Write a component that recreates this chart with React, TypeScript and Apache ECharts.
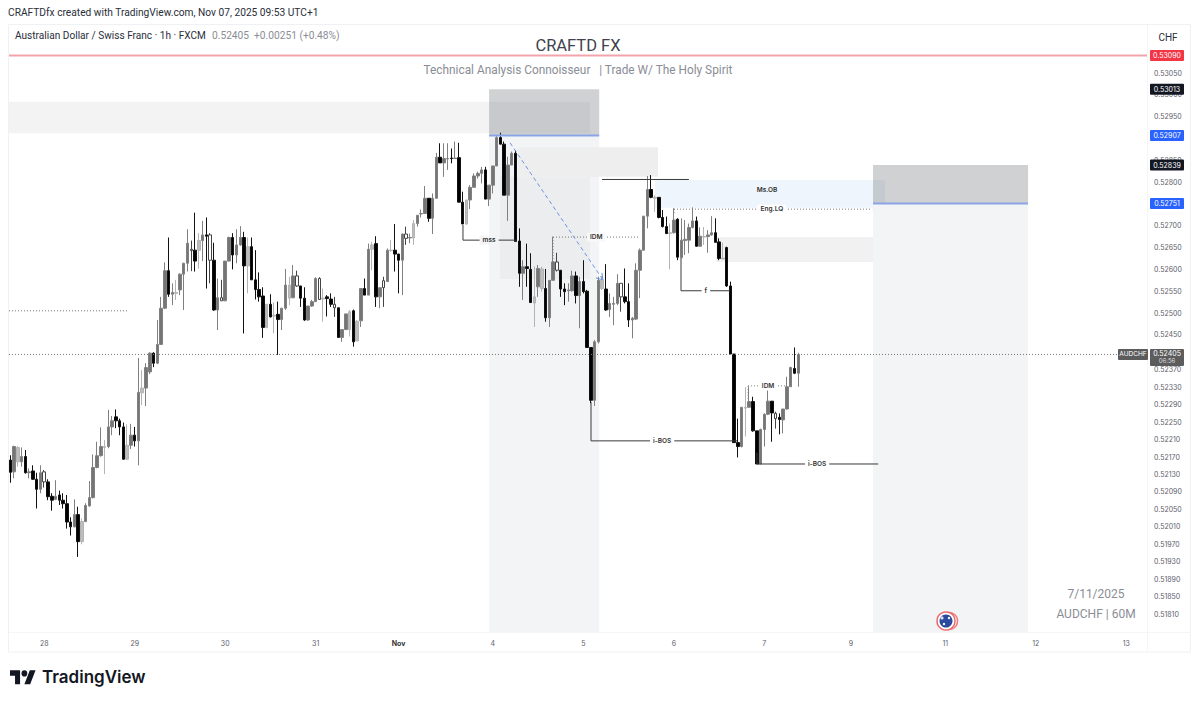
import React, { useEffect, useRef } from "react";
import * as echarts from "echarts";

// Candles are [open, close, low, high], in points of 0.00001 CHF.
const oct27 = [
  [52163,52135,52111,52174],[52136,52194,52121,52196],[52159,52192,52148,52195],[52159,52171,52148,52192],
  [52171,52134,52132,52186],[52134,52136,52121,52144],[52138,52119,52118,52151],[52119,52096,52052,52134],
  [52096,52134,52087,52151],
];
const oct28 = [
  [52136,52113,52100,52140],[52113,52079,52071,52119],[52080,52071,52047,52087],[52073,52080,52071,52117],
  [52083,52071,52060,52093],[52071,52063,52052,52087],[52063,52021,52006,52083],[52021,52010,51990,52032],
  [52010,52038,52009,52073],[52038,51976,51941,52056],[51976,52022,51970,52029],[52022,52059,52021,52064],
  [52058,52077,52056,52115],[52077,52146,52075,52176],[52146,52173,52144,52205],[52173,52194,52171,52238],
  [52192,52194,52131,52209],[52194,52239,52190,52278],[52239,52253,52220,52264],[52262,52253,52236,52279],
  [52253,52239,52220,52258],[52239,52165,52164,52249],[52165,52197,52163,52245],[52197,52220,52188,52246],
];
const oct29 = [
  [52220,52207,52194,52239],[52207,52318,52151,52397],[52317,52328,52289,52369],[52328,52375,52287,52385],
  [52365,52408,52360,52410],[52408,52385,52376,52410],[52385,52428,52383,52484],[52428,52511,52427,52537],
  [52511,52597,52509,52616],[52597,52543,52537,52673],[52543,52547,52518,52568],[52545,52547,52530,52576],
  [52553,52589,52541,52591],[52589,52614,52507,52615],[52614,52660,52595,52692],[52643,52646,52596,52666],
  [52644,52619,52595,52730],[52644,52666,52602,52683],[52666,52679,52619,52711],[52679,52676,52556,52719],
  [52679,52621,52568,52683],[52621,52507,52505,52661],[52507,52535,52461,52579],[52528,52535,52528,52576],
];
const oct30 = [
  [52528,52619,52527,52619],[52619,52673,52618,52675],[52673,52633,52600,52683],[52633,52656,52614,52692],
  [52656,52673,52654,52699],[52673,52608,52453,52686],[52608,52652,52545,52673],[52652,52576,52576,52673],
  [52576,52554,52531,52644],[52554,52537,52526,52593],[52539,52467,52443,52559],[52467,52520,52465,52520],
  [52520,52491,52490,52543],[52493,52495,52453,52524],[52497,52485,52404,52526],[52485,52511,52461,52511],
  [52511,52564,52507,52601],[52534,52564,52518,52583],[52535,52585,52534,52610],[52585,52562,52560,52597],
  [52562,52534,52514,52562],[52534,52484,52482,52559],[52484,52516,52482,52516],[52516,52526,52514,52530],
];
const oct31 = [
  [52526,52579,52526,52582],[52531,52579,52530,52582],[52532,52534,52480,52556],[52537,52533,52492,52541],
  [52532,52520,52514,52545],[52520,52512,52491,52537],[52512,52444,52444,52512],[52444,52462,52434,52462],
  [52462,52498,52461,52498],[52462,52503,52446,52507],[52505,52434,52423,52508],[52436,52481,52436,52484],
  [52482,52556,52468,52556],[52556,52541,52541,52579],[52541,52646,52541,52659],[52646,52656,52598,52663],
  [52659,52537,52514,52676],[52537,52558,52511,52558],[52558,52574,52514,52583],[52572,52644,52572,52648],
  [52643,52644,52640,52667],[52644,52635,52595,52704],
];
const nov3 = [
  [52635,52621,52545,52636],[52621,52681,52541,52682],[52671,52681,52656,52698],[52672,52673,52660,52682],
  [52672,52705,52656,52713],[52705,52724,52698,52724],[52727,52728,52719,52737],[52728,52763,52728,52791],
  [52763,52717,52709,52763],[52717,52763,52681,52774],[52763,52857,52763,52867],[52857,52844,52844,52889],
  [52844,52854,52812,52889],[52853,52854,52828,52889],[52855,52854,52843,52877],[52854,52855,52853,52893],
  [52856,52754,52754,52890],[52754,52704,52704,52778],[52704,52759,52702,52759],[52759,52788,52738,52793],
  [52788,52814,52788,52820],[52814,52820,52808,52824],[52820,52828,52797,52835],[52828,52761,52761,52835],
  [52761,52793,52745,52793],
];
const nov4 = [
  [52793,52837,52774,52837],[52837,52902,52837,52908],[52902,52887,52887,52913],[52887,52770,52770,52893],
  [52770,52839,52711,52858],[52839,52866,52839,52870],[52866,52664,52664,52873],[52665,52591,52560,52694],
  [52591,52606,52530,52621],[52606,52602,52560,52659],[52600,52524,52524,52637],[52523,52537,52468,52606],
  [52560,52602,52537,52610],[52556,52601,52549,52606],[52556,52489,52480,52601],[52489,52575,52468,52575],
  [52575,52617,52575,52675],[52617,52598,52595,52638],[52598,52555,52537,52598],[52555,52549,52518,52568],
  [52551,52553,52526,52568],[52551,52585,52549,52597],[52585,52540,52522,52595],[52540,52572,52465,52583],
];
const nov5 = [
  [52572,52549,52545,52621],[52550,52421,52421,52553],[52421,52300,52293,52421],[52300,52434,52287,52438],
  [52434,52575,52430,52583],[52556,52575,52553,52585],[52555,52507,52505,52612],[52508,52522,52491,52545],
  [52520,52522,52472,52537],[52522,52568,52518,52589],[52537,52568,52503,52568],[52537,52526,52522,52602],
  [52526,52484,52468,52568],[52484,52488,52442,52491],[52486,52598,52484,52614],[52598,52644,52534,52648],
  [52644,52722,52643,52722],[52722,52783,52694,52814],[52783,52765,52763,52816],[52763,52765,52732,52770],
  [52765,52719,52717,52765],[52719,52698,52696,52736],[52698,52682,52681,52721],[52682,52684,52600,52705],
];
const nov6 = [
  [52684,52713,52682,52740],[52715,52628,52621,52717],[52627,52667,52625,52717],[52666,52669,52633,52713],
  [52667,52696,52637,52705],[52696,52711,52694,52742],[52711,52653,52652,52721],[52653,52676,52653,52696],
  [52674,52675,52656,52697],[52675,52679,52638,52690],[52679,52684,52677,52722],[52684,52662,52661,52717],
  [52663,52625,52621,52671],[52624,52626,52623,52661],[52650,52562,52560,52652],[52562,52406,52406,52572],
  [52406,52203,52203,52406],[52203,52194,52169,52258],[52194,52284,52192,52284],[52282,52284,52217,52330],
  [52284,52297,52284,52331],[52297,52230,52228,52308],[52230,52154,52154,52230],[52154,52233,52154,52235],
];
const nov7 = [
  [52233,52268,52194,52270],[52268,52298,52266,52323],[52298,52271,52205,52298],[52270,52258,52235,52274],
  [52261,52256,52222,52270],[52255,52280,52224,52280],[52280,52331,52279,52354],[52331,52375,52331,52377],
  [52373,52362,52360,52421],[52362,52405,52331,52409],
];
const lightBars = [2,19,25,31,35,44,50,63,68,70,74,83,90,92,96,101,107,121,139,141,157,171,175,184,189,195];
const hollowBars = [9,48,53,56,76,82,86,99,105,145,162,203];

const dayLabels: [number, string][] = [
  [9,"28"],[33,"29"],[57,"30"],[81,"31"],[103,"Nov"],[128,"4"],[152,"5"],[176,"6"],[200,"7"],[223,"9"],[248,"11"],[272,"12"],[296,"13"],
];
const priceTicks = [
  53050,53000,52950,52850,52800,52700,52650,52600,52550,52500,52450,
  52370,52330,52290,52250,52210,52170,52130,52090,52050,52010,51970,51930,51890,51850,51810,
];
const BAR_SLOTS = 302;
const PRICE_MIN = 51769;
const PRICE_MAX = 53160;
const LEFT_EDGE = -0.34;
const RIGHT_EDGE = 301.5;

// Zones: [from bar, to bar, top price, bottom price, fill]
const zones: [number, number, number, number, string][] = [
  [LEFT_EDGE,153.8,52984,52912,"#f3f3f4"],
  [127,156.2,52907,PRICE_MIN,"#f3f4f6"],
  [134.7,171.8,52880,52812,"#eeeeef"],
  [129.9,153.8,52812,52578,"#ecedef"],
  [127,156.2,53013,52907,"rgba(120,123,130,0.35)"],
  [171,232,52805,52741,"#eef5fc"],
  [228.83,269.95,52751,PRICE_MIN,"#f3f4f6"],
  [187.2,228.83,52674,52617,"#f1f1f2"],
  [228.83,269.95,52839,52751,"rgba(120,123,130,0.35)"],
];
// Lines: [bar, price, bar, price]
const solidLines = [
  [120.07,52702,120.07,52667],[120.07,52667,134.2,52667],
  [156.95,52806,180,52806],
  [177.9,52626,177.9,52551],[177.9,52551,190.9,52551],
  [154.03,52296,154.03,52207],[154.03,52207,192.75,52207],
  [198.06,52180,198.06,52154],[198.06,52154,230.2,52154],
];
const dottedLines = [
  [176.05,52738,228.6,52738],[176.05,52738,176.05,52725],
  [143.95,52674,167.03,52674],[143.95,52674,143.95,52610],
  [195.7,52333,205.5,52333],[195.7,52333,195.7,52300],
  [LEFT_EDGE,52505,30.95,52505],
  [LEFT_EDGE,52405,293.8,52405],
];
const blueLines = [[127,52907,156.2,52907],[228.83,52751,269.95,52751]];
const redLines = [[LEFT_EDGE,53090,RIGHT_EDGE,53090]];
const arrowLine = [[132.56,52890,157.2,52576]];
// Notes: [bar, price, text, backing colour]
const notes: [number, number, string, string][] = [
  [127,52667,"mss","#f3f4f6"],
  [155.4,52674,"IDM","#f8f8f9"],
  [200.7,52782,"Ms.OB","#eef5fc"],
  [202,52738,"Eng.LQ","#ffffff"],
  [184.5,52551,"f","#ffffff"],
  [172.9,52207,"i-BOS","#ffffff"],
  [214,52154,"i-BOS","#ffffff"],
  [201,52333,"IDM","#ffffff"],
];
// Price tags on the scale: [price, fill]
const priceTags: [number, string][] = [
  [53090,"#f23645"],[53013,"#131722"],[52907,"#2962ff"],[52839,"#131722"],[52751,"#2962ff"],
];
const LAST_PRICE = 52405;

const LOGO_PATH = "M14 25H7V14H0V7h14v18zM28 25h-8l7.5-18h8L28 25zM20 7a4 4 0 1 1 0 8a4 4 0 1 1 0-8z";
echarts.graphic.registerShape("tvlogo", echarts.graphic.extendPath(LOGO_PATH, {}));

const FONT = "Inter, Roboto, sans-serif";

function lineSeries(rows: number[][], stroke: string, width: number, dash: number[] | null, z: number) {
  return {
    type: "custom", xAxisIndex: 1, yAxisIndex: 0, z, silent: true, clip: false,
    encode: { x: [0, 2], y: [1, 3] },
    data: rows,
    renderItem: (_p: any, api: any) => {
      const a = api.coord([api.value(0), api.value(1)]);
      const b = api.coord([api.value(2), api.value(3)]);
      return {
        type: "line",
        shape: { x1: a[0], y1: a[1], x2: b[0], y2: b[1] },
        style: { stroke, lineWidth: width, lineDash: dash || undefined, fill: null },
      };
    },
  };
}

export default function App() {
  const ref = useRef<HTMLDivElement>(null);
  useEffect(() => {
    document.body.style.margin = "0";
    document.body.style.background = "#fff";
    const chart = echarts.init(ref.current!, undefined, { renderer: "svg" });
    const candles = [...oct27, ...oct28, ...oct29, ...oct30, ...oct31, ...nov3, ...nov4, ...nov5, ...nov6, ...nov7];
    const categories: string[] = new Array(BAR_SLOTS).fill("");
    dayLabels.forEach(([i, t]) => { categories[i] = t; });
    const labelled = new Set(dayLabels.map((d) => d[0]));
    const candleData = candles.map((c, i) => {
      if (hollowBars.includes(i)) return { value: c, itemStyle: { color: "#ffffff", color0: "#ffffff", borderColor: "#444444", borderColor0: "#444444" } };
      if (lightBars.includes(i)) return { value: c, itemStyle: { color: "#bdbdbd", color0: "#bdbdbd", borderColor: "#b4b4b4", borderColor0: "#b4b4b4" } };
      return { value: c };
    });

    chart.setOption({
      animation: false,
      backgroundColor: "#ffffff",
      grid: { left: 8.4, width: 1138.6, top: 25, height: 607, containLabel: false },
      xAxis: [
        {
          type: "category", data: categories, boundaryGap: true,
          axisLine: { show: false }, axisTick: { show: false }, splitLine: { show: false },
          axisLabel: {
            interval: (i: number) => labelled.has(i), margin: 8, fontSize: 7, color: "#5d606b", fontFamily: FONT, hideOverlap: false,
            formatter: (v: string) => (v === "Nov" ? "{b|Nov}" : v),
            rich: { b: { fontWeight: "bold", fontSize: 7, color: "#333", fontFamily: FONT } },
          },
        },
        { type: "value", min: -0.5, max: RIGHT_EDGE, show: false },
      ],
      yAxis: {
        type: "value", position: "right", min: PRICE_MIN, max: PRICE_MAX, scale: true,
        axisLine: { show: false }, axisTick: { show: false }, splitLine: { show: false },
        axisLabel: {
          customValues: priceTicks, margin: 7, fontSize: 7, color: "#5d606b", fontFamily: FONT,
          formatter: (v: number) => (v / 1e5).toFixed(5),
        },
      },
      series: [
        {
          type: "custom", xAxisIndex: 1, yAxisIndex: 0, z: 1, silent: true, clip: false,
          encode: { x: [0, 1], y: [2, 3] },
          data: zones.map((r) => r.slice(0, 4)),
          renderItem: (p: any, api: any) => {
            const a = api.coord([api.value(0), api.value(2)]);
            const b = api.coord([api.value(1), api.value(3)]);
            return {
              type: "rect",
              shape: { x: a[0], y: a[1], width: b[0] - a[0], height: b[1] - a[1] },
              style: { fill: zones[p.dataIndex][4] },
            };
          },
        },
        {
          type: "candlestick", xAxisIndex: 0, yAxisIndex: 0, z: 3, barWidth: 3, clip: false, silent: true,
          itemStyle: { color: "#757575", color0: "#000000", borderColor: "#808080", borderColor0: "#111111", borderWidth: 1 },
          data: candleData,
        },
        lineSeries(solidLines, "#3a3a3a", 1, null, 4),
        lineSeries(dottedLines, "#777777", 1, [1, 2], 4),
        lineSeries(blueLines, "#8aa4e6", 2, null, 4),
        lineSeries(redLines, "#f2a3ab", 2, null, 4),
        lineSeries(arrowLine, "#6f93dc", 1, [4, 3], 4),
        {
          type: "custom", xAxisIndex: 1, yAxisIndex: 0, z: 4, silent: true, clip: false,
          encode: { x: [0, 2], y: [1, 3] },
          data: arrowLine,
          renderItem: (_p: any, api: any) => {
            const b = api.coord([api.value(2), api.value(3)]);
            return {
              type: "polyline",
              shape: { points: [[b[0] - 1, b[1] - 7], [b[0], b[1]], [b[0] - 7, b[1] - 2]] },
              style: { stroke: "#6f93dc", lineWidth: 1, fill: null },
            };
          },
        },
        {
          type: "custom", xAxisIndex: 1, yAxisIndex: 0, z: 5, silent: true, clip: false,
          encode: { x: 0, y: 1 },
          data: notes.map((n) => [n[0], n[1]]),
          renderItem: (p: any, api: any) => {
            const a = api.coord([api.value(0), api.value(1)]);
            const n = notes[p.dataIndex];
            return {
              type: "text", x: a[0], y: a[1],
              style: {
                text: n[2], align: "center", verticalAlign: "middle", fontSize: 6.5, fontWeight: 600,
                fontFamily: FONT, fill: "#333", backgroundColor: n[3], padding: [1, 3],
              },
            };
          },
        },
        {
          type: "custom", xAxisIndex: 1, yAxisIndex: 0, z: 6, silent: true, clip: false,
          encode: { y: 1 },
          data: priceTags.map((t) => [RIGHT_EDGE, t[0]]),
          renderItem: (p: any, api: any) => {
            const a = api.coord([api.value(0), api.value(1)]);
            const t = priceTags[p.dataIndex];
            return {
              type: "group",
              children: [
                { type: "rect", shape: { x: a[0] + 3, y: a[1] - 5.5, width: 34, height: 11, r: 1 }, style: { fill: t[1] } },
                { type: "text", x: a[0] + 20, y: a[1], style: { text: (t[0] / 1e5).toFixed(5), align: "center", verticalAlign: "middle", fontSize: 7, fontFamily: FONT, fill: "#fff" } },
              ],
            };
          },
        },
        {
          type: "custom", xAxisIndex: 1, yAxisIndex: 0, z: 6, silent: true, clip: false,
          encode: { y: 1 },
          data: [[RIGHT_EDGE, LAST_PRICE]],
          renderItem: (_p: any, api: any) => {
            const a = api.coord([api.value(0), api.value(1)]);
            return {
              type: "group",
              children: [
                { type: "rect", shape: { x: a[0] + 3, y: a[1] - 5.5, width: 34, height: 17, r: 1 }, style: { fill: "#5c5c5c" } },
                { type: "text", x: a[0] + 20, y: a[1] - 1, style: { text: (api.value(1) / 1e5).toFixed(5), align: "center", verticalAlign: "middle", fontSize: 7, fontFamily: FONT, fill: "#fff" } },
                { type: "text", x: a[0] + 20, y: a[1] + 6.5, style: { text: "06:56", align: "center", verticalAlign: "middle", fontSize: 6, fontFamily: FONT, fill: "#ddd" } },
                { type: "rect", shape: { x: a[0] - 29, y: a[1] - 5.5, width: 30, height: 11, r: 1 }, style: { fill: "#5c5c5c" } },
                { type: "text", x: a[0] - 14, y: a[1], style: { text: "AUDCHF", align: "center", verticalAlign: "middle", fontSize: 6.5, fontFamily: FONT, fill: "#fff" } },
              ],
            };
          },
        },
      ],
      graphic: [
        { type: "rect", z: 0, shape: { x: 8.5, y: 24.5, width: 1182, height: 627.5 }, style: { fill: "none", stroke: "#f0f1f3", lineWidth: 1 } },
        { type: "line", z: 0, shape: { x1: 9, y1: 632.5, x2: 1191, y2: 632.5 }, style: { stroke: "#f5f5f6", lineWidth: 1 } },
        { type: "line", z: 0, shape: { x1: 1147.5, y1: 25, x2: 1147.5, y2: 652 }, style: { stroke: "#f5f5f6", lineWidth: 1 } },
        { type: "text", x: 8, y: 12, style: { text: "CRAFTDfx created with TradingView.com, Nov 07, 2025 09:53 UTC+1", fontSize: 10.2, fontFamily: "Roboto, sans-serif", fill: "#2a2e39", verticalAlign: "middle" } },
        { type: "text", x: 15, y: 35, style: { text: "Australian Dollar / Swiss Franc · 1h · FXCM", fontSize: 10.1, fontFamily: "Roboto, sans-serif", fill: "#2a2e39", verticalAlign: "middle" } },
        { type: "text", x: 212, y: 35, style: { text: "0.52405  +0.00251 (+0.48%)", fontSize: 10.2, fontFamily: "Roboto, sans-serif", fill: "#8a8d96", verticalAlign: "middle" } },
        { type: "text", x: 1168, y: 37, style: { text: "CHF", fontSize: 10, fontFamily: "Roboto, sans-serif", fill: "#2a2e39", align: "center", verticalAlign: "middle" } },
        { type: "text", x: 578, y: 45, style: { text: "CRAFTD FX", fontSize: 16.5, fontFamily: "Roboto, sans-serif", fill: "#40434d", align: "center", verticalAlign: "middle" } },
        { type: "text", x: 578, y: 70, style: { text: "Technical Analysis Connoisseur   | Trade W/ The Holy Spirit", fontSize: 11.85, fontFamily: "Roboto, sans-serif", fill: "#8a8d96", align: "center", verticalAlign: "middle" } },
        { type: "text", x: 1096, y: 594, style: { text: "7/11/2025", fontSize: 12, fontFamily: "Roboto, sans-serif", fill: "#8a8d96", align: "center", verticalAlign: "middle" } },
        { type: "text", x: 1096, y: 614, style: { text: "AUDCHF | 60M", fontSize: 12, fontFamily: "Roboto, sans-serif", fill: "#8a8d96", align: "center", verticalAlign: "middle" } },
        { type: "group", z: 20, silent: true, children: [
          { type: "circle", z: 20, shape: { cx: 949, cy: 621, r: 8.5 }, style: { fill: "#fff", stroke: "#ee7d7d", lineWidth: 1.5 } },
          { type: "circle", z: 21, shape: { cx: 946, cy: 621, r: 9 }, style: { fill: "#fff", stroke: "#ee6a6a", lineWidth: 1.5 } },
          { type: "circle", z: 22, shape: { cx: 946, cy: 621, r: 6.5 }, style: { fill: "#2a4aa0" } },
          { type: "circle", z: 23, shape: { cx: 949, cy: 618, r: 1.2 }, style: { fill: "#fff" } },
          { type: "circle", z: 23, shape: { cx: 944, cy: 624, r: 1.2 }, style: { fill: "#fff" } },
          { type: "circle", z: 23, shape: { cx: 942, cy: 618, r: 1.6 }, style: { fill: "#d9dff0" } },
        ] },
        { type: "tvlogo", x: 10, y: 664.8, scaleX: 0.72, scaleY: 0.78, style: { fill: "#131722" } },
        { type: "text", x: 42, y: 677, style: { text: "TradingView", fontSize: 17, fontWeight: 600, fontFamily: "Inter, sans-serif", fill: "#131722", verticalAlign: "middle" } },
      ],
    });
    return () => chart.dispose();
  }, []);
  return <div ref={ref} style={{ position: "absolute", left: 0, top: 0, width: 1200, height: 702 }} />;
}
